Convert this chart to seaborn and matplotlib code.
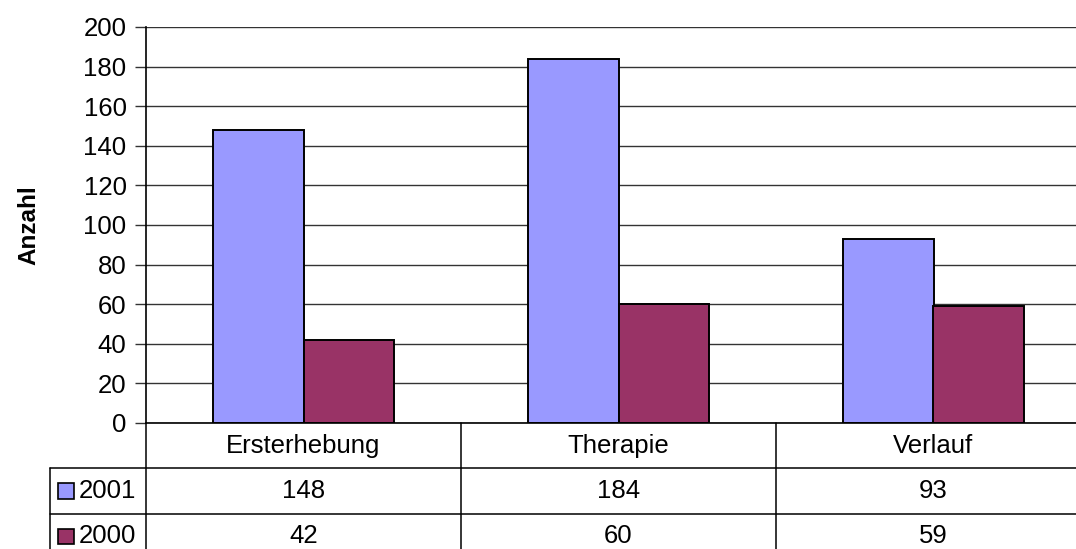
import numpy as np
import pandas as pd
import matplotlib
matplotlib.use("Agg")
import matplotlib.pyplot as plt
from matplotlib.patches import Rectangle
import seaborn as sns

# chart data
categories = ["Ersterhebung", "Therapie", "Verlauf"]
series_names = ["2001", "2000"]
values_2001 = [148, 184, 93]
values_2000 = [42, 60, 59]
series_colors = ["#9999FF", "#993366"]
y_ticks = [0, 20, 40, 60, 80, 100, 120, 140, 160, 180, 200]

df = pd.DataFrame({
    "Kategorie": categories * 2,
    "Jahr": [series_names[0]] * 3 + [series_names[1]] * 3,
    "Anzahl": values_2001 + values_2000,
})

sns.set_style("white")
plt.rcParams["font.family"] = ["Liberation Sans", "DejaVu Sans"]
plt.rcParams["text.color"] = "black"
plt.rcParams["axes.labelcolor"] = "black"
plt.rcParams["ytick.color"] = "black"
fs = 18.5

W, H = 1076, 549
fig = plt.figure(figsize=(W / 100, H / 100), dpi=100)

# plot area in pixel terms (right edge runs past the image, as in the reference)
left, right, top, bottom = 146, 1091, 27, 423
ax = fig.add_axes([left / W, (H - bottom) / H, (right - left) / W, (bottom - top) / H])

sns.barplot(data=df, x="Kategorie", y="Anzahl", hue="Jahr", order=categories,
            hue_order=series_names, palette=series_colors, width=0.572,
            edgecolor="black", linewidth=1.4, saturation=1, legend=False, ax=ax)

ax.set_ylim(0, 200)
ax.set_xlim(-0.5, 2.5)
ax.set_yticks(y_ticks)
ax.set_yticklabels([str(t) for t in y_ticks], fontsize=fs)
ax.yaxis.grid(True, color="#333333", linewidth=1.0)
ax.set_axisbelow(True)
ax.tick_params(axis="y", direction="out", length=8, width=1, color="#333333", pad=6, left=True)
ax.set_xticks([])
ax.set_xlabel("")
ax.set_ylabel("Anzahl", fontsize=fs - 1, fontweight="bold", labelpad=31)
for s in ["top", "right"]:
    ax.spines[s].set_visible(False)
ax.spines["left"].set_color("black")
ax.spines["left"].set_linewidth(1.2)
ax.spines["bottom"].set_color("black")
ax.spines["bottom"].set_linewidth(1.2)

# data table below the plot, sharing the category positions
row_edges_px = [423, 467, 513, 559]
tab = fig.add_axes([left / W, (H - row_edges_px[-1]) / H, (right - left) / W,
                    (row_edges_px[-1] - row_edges_px[0]) / H])
tab.set_xlim(-0.5, 2.5)
tab.set_ylim(3, 0)
tab.axis("off")

n = len(categories)
px = (right - left) / n
lab_left = -0.5 - (left - 50) / px  # row label column start
# vertical borders
for i in range(n + 1):
    tab.plot([i - 0.5, i - 0.5], [0, 3], color="black", lw=1.1, clip_on=False)
tab.plot([lab_left, lab_left], [1, 3], color="black", lw=1.1, clip_on=False)
# horizontal borders
for r in [1, 2, 3]:
    tab.plot([lab_left, 2.5], [r, r], color="black", lw=1.1, clip_on=False)

for i, c in enumerate(categories):
    tab.text(i, 0.5, c, ha="center", va="center", fontsize=fs)
    tab.text(i, 1.5, str(values_2001[i]), ha="center", va="center", fontsize=fs)
    tab.text(i, 2.5, str(values_2000[i]), ha="center", va="center", fontsize=fs)

# legend keys inside the row-label column
for r, (name, col) in enumerate(zip(series_names, series_colors)):
    key_x = lab_left + 8 / px
    tab.add_patch(Rectangle((key_x, 1.5 + r - 0.17), 16 / px, 0.34, facecolor=col,
                            edgecolor="black", lw=1.2, clip_on=False))
    tab.text(key_x + 21 / px, 1.5 + r, name, ha="left", va="center", fontsize=fs)

fig.savefig("out.png", dpi=100)
